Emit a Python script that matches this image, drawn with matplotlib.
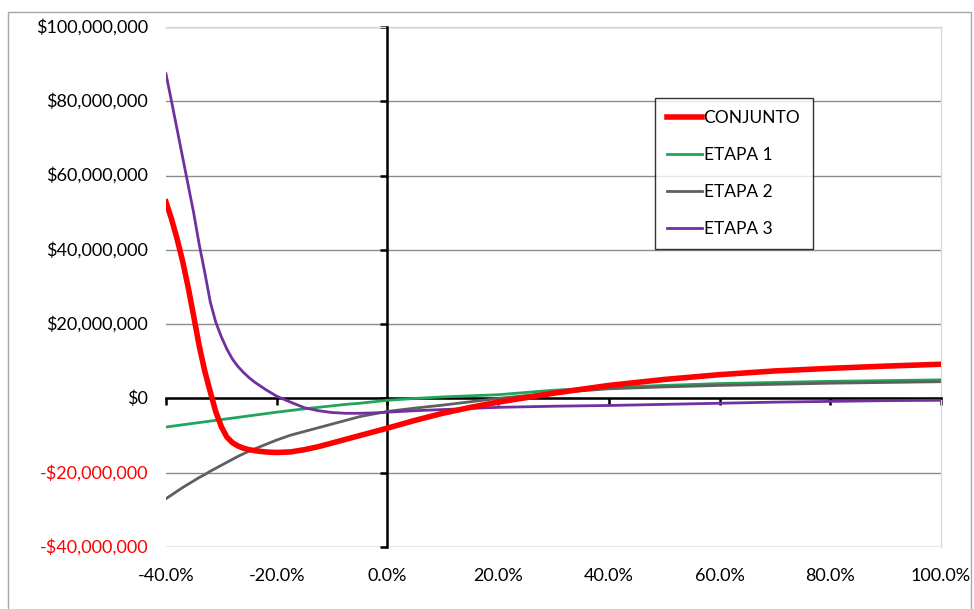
#!/usr/bin/env python3
# -*- coding: utf-8 -*-
import numpy as np
import matplotlib
matplotlib.use('Agg')
import matplotlib.pyplot as plt
import matplotlib.transforms as mtrans
from matplotlib.patches import Rectangle

plt.rcParams['font.family'] = ['Lato', 'DejaVu Sans']

# x in percent, values in millions of $
x_pct = [-40, -39, -38, -37, -36, -35, -34, -33, -32, -31, -30, -29, -28,
         -27, -26, -25, -24, -23, -22, -21, -20, -17.5, -15, -12.5, -10,
         -7.5, -5, -2.5, 0, 5, 10, 15, 20, 30, 40, 50, 60, 70, 80, 90, 100]

conjunto = [52.9, 48.3, 43.0, 37.0, 30.0, 22.2, 14.2, 7.4, 1.8, -3.6, -7.6,
            -10.4, -11.9, -12.8, -13.4, -13.8, -14.05, -14.25, -14.4, -14.5,
            -14.55, -14.4, -13.8, -13.0, -12.0, -11.0, -10.0, -9.0, -8.0,
            -5.9, -4.0, -2.4, -1.0, 1.4, 3.5, 5.1, 6.4, 7.4, 8.1, 8.7, 9.2]
etapa1 = [-7.7, -7.5, -7.3, -7.1, -6.9, -6.7, -6.5, -6.3, -6.1, -5.9, -5.7,
          -5.5, -5.3, -5.1, -4.9, -4.7, -4.5, -4.3, -4.1, -3.9, -3.7, -3.25,
          -2.8, -2.4, -2.0, -1.6, -1.3, -0.9, -0.5, 0.0, 0.4, 0.7, 1.0, 2.2,
          3.0, 3.5, 4.0, 4.3, 4.6, 4.8, 5.0]
etapa2 = [-27.0, -26.0, -25.0, -24.0, -23.1, -22.2, -21.3, -20.5, -19.6,
          -18.8, -18.0, -17.2, -16.4, -15.6, -14.9, -14.2, -13.6, -13.0,
          -12.4, -11.8, -11.2, -9.9, -8.9, -7.9, -6.9, -5.9, -4.9, -4.2,
          -3.5, -2.6, -1.8, -0.9, 0.0, 1.5, 2.6, 3.1, 3.5, 3.8, 4.1, 4.3, 4.5]
etapa3 = [87.4, 80, 72.5, 65, 57.5, 50, 41.5, 34, 26, 20.5, 16.6, 13.3, 10.6,
          8.6, 7.0, 5.6, 4.4, 3.4, 2.4, 1.5, 0.6, -1.0, -2.5, -3.3, -3.8,
          -4.0, -4.0, -3.9, -3.7, -3.3, -3.0, -2.7, -2.4, -2.1, -1.9, -1.6,
          -1.3, -1.0, -0.8, -0.6, -0.5]

x_ticks = [-40, -20, 0, 20, 40, 60, 80, 100]
y_ticks = [-40, -20, 0, 20, 40, 60, 80, 100]

fig = plt.figure(figsize=(9.74, 6.09), dpi=100)
ax = fig.add_axes([0.1704, 0.1018, 0.7957, 0.8539])

# chart area border
fig.patches.append(Rectangle((0.008, -0.01), 0.989, 0.99, transform=fig.transFigure,
                             fill=False, edgecolor='#a6a6a6', lw=1.0))

x = np.array(x_pct)
ax.plot(x, np.array(conjunto) * 1e6, color='#ff0000', lw=4.0, label='CONJUNTO',
        zorder=5, solid_joinstyle='round')
ax.plot(x, np.array(etapa1) * 1e6, color='#22a45a', lw=2.0, label='ETAPA 1', zorder=4)
ax.plot(x, np.array(etapa2) * 1e6, color='#5f5f5f', lw=2.0, label='ETAPA 2', zorder=4)
ax.plot(x, np.array(etapa3) * 1e6, color='#7030a0', lw=2.0, label='ETAPA 3', zorder=4)

ax.set_xlim(-40, 100)
ax.set_ylim(-40e6, 100e6)

for s in ['top', 'right']:
    ax.spines[s].set_color('#d9d9d9')
    ax.spines[s].set_linewidth(1.0)
ax.spines['left'].set_position(('data', 0))
ax.spines['bottom'].set_position(('data', 0))
ax.spines['left'].set_linewidth(1.8)
ax.spines['bottom'].set_linewidth(1.8)
ax.spines['left'].set_zorder(3)
ax.spines['bottom'].set_zorder(3)

ax.set_xticks(x_ticks)
ax.set_yticks([v * 1e6 for v in y_ticks])
ax.tick_params(axis='both', labelleft=False, labelbottom=False,
               length=5, width=1.8, color='black', direction='out')

# horizontal gridlines
for v in y_ticks:
    ax.axhline(v * 1e6, color='#8c8c8c', lw=1.0, zorder=1)
ax.axhline(-40e6, color='#d9d9d9', lw=1.0, zorder=1)
ax.axhline(100e6, color='#d9d9d9', lw=1.0, zorder=1)

# tick labels at the chart edges
ty = mtrans.blended_transform_factory(ax.transAxes, ax.transData)
for v in y_ticks:
    if v < 0:
        txt = '-${:,}'.format(abs(v) * 1000000)
        col = '#ff0000'
    elif v == 0:
        txt = '$0'
        col = 'black'
    else:
        txt = '${:,}'.format(v * 1000000)
        col = 'black'
    ax.text(-0.023, v * 1e6, txt, transform=ty, ha='right', va='center',
            fontsize=13, color=col)

tx = mtrans.blended_transform_factory(ax.transData, ax.transAxes)
for v in x_ticks:
    ax.text(v, -0.055, '{:.1f}%'.format(v), transform=tx, ha='center',
            va='center', fontsize=13, color='black')

leg = ax.legend(loc='upper left', bbox_to_anchor=(0.631, 0.8635), fontsize=12.5,
                frameon=True, fancybox=False, handlelength=2.0,
                handletextpad=0.1, labelspacing=1.2, borderpad=0.7,
                borderaxespad=0.0)
leg.get_frame().set_edgecolor('black')
leg.get_frame().set_linewidth(1.0)

fig.savefig('out.png', dpi=100)
